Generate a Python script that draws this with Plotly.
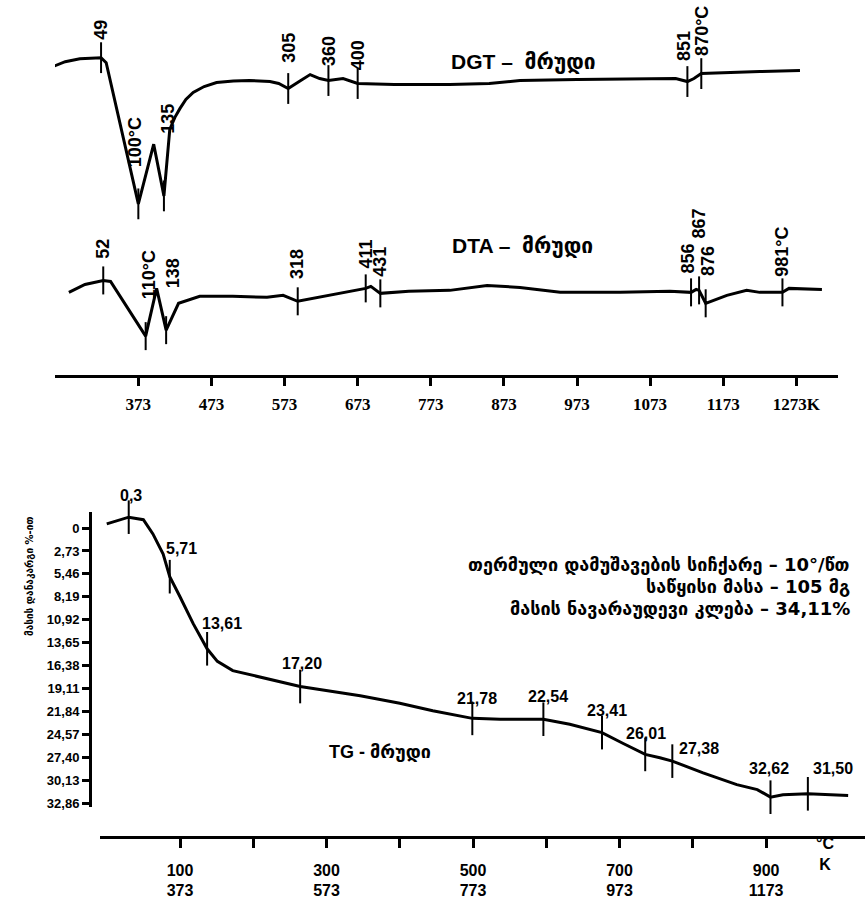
import plotly.graph_objects as go

# ---------------- data ----------------
# Top panel: DGT curve (temperature °C, relative signal)
dgt_temp = [-17, 0, 20, 49, 56, 78, 100, 121, 135, 143, 150, 157, 165, 175, 190, 207, 230, 252, 280, 292, 305,
            320, 335, 348, 360, 380, 400, 450, 526, 580, 622, 700, 804, 835, 851, 860, 870, 900, 950, 1005]
dgt_signal = [18, 23, 26, 27, 22, -50, -120, -60, -112, -45, -33, -24, -15, -8, -2, 2, 3.5, 4, 3, 1, -4,
              3, 10, 6, 4, 6, 1, 0, 0, 1, 4, 5, 6, 6, 3, 6, 11, 12, 13, 14]
dgt_mark_temp = [49, 100, 135, 305, 360, 400, 851, 870]
dgt_mark_text = ["49", "100°C", "135", "305", "360", "400", "851", "870°C"]

# Top panel: DTA curve
dta_temp = [5, 27, 52, 62, 110, 125, 138, 155, 184, 229, 276, 298, 318, 360, 411, 418, 431, 470,
            526, 577, 622, 677, 759, 827, 856, 863, 867, 876, 905, 932, 950, 981, 990, 1035]
dta_signal = [1, 9, 13, 12, -43, 5, -37, -10, -3, -3, -4, -2, -8, -2, 5, 7, 0, 2,
              3, 8, 6, 1, 1, 2, 1, 4, 3, -10, -2, 3, 1, 1, 5, 4]
dta_mark_temp = [52, 110, 138, 318, 411, 431, 856, 867, 876, 981]
dta_mark_text = ["52", "110°C", "138", "318", "411", "431", "856", "867", "876", "981°C"]

top_tick_c = [100, 200, 300, 400, 500, 600, 700, 800, 900, 1000]
top_tick_k = ["373", "473", "573", "673", "773", "873", "973", "1073", "1173", "1273K"]

# Bottom panel: TG curve (temperature °C, mass loss %)
tg_temp = [0, 30, 50, 63, 77, 86, 100, 118, 137, 151, 172, 219, 264, 346, 400, 445, 499, 537,
           596, 632, 676, 705, 735, 755, 772, 814, 860, 888, 906, 923, 957, 1012]
tg_loss = [-0.5, -1.3, -1.0, 0.7, 3.1, 5.8, 8.2, 11.4, 14.4, 15.9, 17.0, 18.0, 18.9, 20.0, 20.9, 21.8, 22.7, 22.8,
           22.8, 23.4, 24.4, 25.7, 27.0, 27.4, 27.8, 29.2, 30.6, 31.2, 32.1, 31.8, 31.7, 31.9]
tg_mark_temp = [30, 86, 137, 264, 499, 596, 676, 735, 772, 906, 957]
tg_mark_text = ["0,3", "5,71", "13,61", "17,20", "21,78", "22,54", "23,41", "26,01", "27,38", "32,62", "31,50"]

tg_ytick_vals = [0, 2.73, 5.46, 8.19, 10.92, 13.65, 16.38, 19.11, 21.84, 24.57, 27.40, 30.13, 32.86]
tg_ytick_text = ["0", "2,73", "5,46", "8,19", "10,92", "13,65", "16,38", "19,11", "21,84", "24,57", "27,40", "30,13", "32,86"]
tg_xtick_c = [100, 200, 300, 400, 500, 600, 700, 800, 900]
tg_xtick_k = ["373", "", "573", "", "773", "", "973", "", "1173"]

info_lines = ["თერმული დამუშავების სიჩქარე – 10°/წთ",
              "საწყისი მასა – 105 მგ",
              "მასის ნავარაუდევი კლება – 34,11%"]
y_title = "მასის დანაკარგი %-ით"

# ---------------- style (pixel offsets for labels) ----------------
W, H = 865, 899
dgt_label_shift = [(0, 16), (-3, 35), (4, 60), (0, 24), (0, 13), (0, 11), (-4, 19), (0, 16)]
dta_label_shift = [(0, 20), (3, 35), (7, 40), (0, 20), (0, 18), (0, 15), (-3, 17), (0, 50), (3, 25), (0, 14)]
tg_label_shift = [(2, 22), (12, 28), (15, 25), (2, 23), (5, 20), (5, 23), (5, 22), (1, 21), (27, 13), (-1, 29), (25, 25)]

NARROW = "Liberation Sans Narrow, Arial Narrow, Liberation Sans, DejaVu Sans"
SANS = "Liberation Sans, Arial, DejaVu Sans"
SERIF = "Liberation Serif, Times New Roman, DejaVu Serif"
GEO = "DejaVu Sans, Liberation Sans"


def px_x(p):
    return p / W


def px_y(p):
    return 1 - p / H


fig = go.Figure()

line_style = dict(color="black", width=3)

dgt_map = dict(zip(dgt_temp, dgt_signal))
dta_map = dict(zip(dta_temp, dta_signal))
tg_map = dict(zip(tg_temp, tg_loss))

fig.add_trace(go.Scatter(x=dgt_temp, y=dgt_signal, mode="lines", line=line_style,
                         xaxis="x", yaxis="y", showlegend=False, hoverinfo="skip"))
fig.add_trace(go.Scatter(x=dgt_mark_temp, y=[dgt_map[t] for t in dgt_mark_temp], mode="markers",
                         marker=dict(symbol="line-ns", size=22, line=dict(color="black", width=2)),
                         xaxis="x", yaxis="y", showlegend=False, cliponaxis=False))

fig.add_trace(go.Scatter(x=dta_temp, y=dta_signal, mode="lines", line=line_style,
                         xaxis="x", yaxis="y2", showlegend=False, hoverinfo="skip"))
fig.add_trace(go.Scatter(x=dta_mark_temp, y=[dta_map[t] for t in dta_mark_temp], mode="markers",
                         marker=dict(symbol="line-ns", size=20, line=dict(color="black", width=2)),
                         xaxis="x", yaxis="y2", showlegend=False, cliponaxis=False))

fig.add_trace(go.Scatter(x=tg_temp, y=tg_loss, mode="lines", line=line_style,
                         xaxis="x2", yaxis="y3", showlegend=False, hoverinfo="skip"))
fig.add_trace(go.Scatter(x=tg_mark_temp, y=[tg_map[t] for t in tg_mark_temp], mode="markers",
                         marker=dict(symbol="line-ns", size=24, line=dict(color="black", width=2)),
                         xaxis="x2", yaxis="y3", showlegend=False, cliponaxis=False))

annotations = []
for t, txt, (dx, dy) in zip(dgt_mark_temp, dgt_mark_text, dgt_label_shift):
    annotations.append(dict(x=t, y=dgt_map[t], xref="x", yref="y", text="<b>%s</b>" % txt,
                            textangle=-90, showarrow=False, xanchor="center", yanchor="bottom",
                            xshift=dx, yshift=dy, font=dict(family=NARROW, size=18, color="black")))
for t, txt, (dx, dy) in zip(dta_mark_temp, dta_mark_text, dta_label_shift):
    annotations.append(dict(x=t, y=dta_map[t], xref="x", yref="y2", text="<b>%s</b>" % txt,
                            textangle=-90, showarrow=False, xanchor="center", yanchor="bottom",
                            xshift=dx, yshift=dy, font=dict(family=NARROW, size=18, color="black")))
for t, txt, (dx, dy) in zip(tg_mark_temp, tg_mark_text, tg_label_shift):
    annotations.append(dict(x=t, y=tg_map[t], xref="x2", yref="y3", text="<b>%s</b>" % txt,
                            showarrow=False, xanchor="center", yanchor="middle",
                            xshift=dx, yshift=dy, font=dict(family=SANS, size=16, color="black")))

# titles of curves
annotations.append(dict(x=px_x(523), y=px_y(48), xref="paper", yref="paper", showarrow=False,
                        text="<b>DGT –  მრუდი</b>", font=dict(family=SANS, size=21, color="black")))
annotations.append(dict(x=px_x(522), y=px_y(233), xref="paper", yref="paper", showarrow=False,
                        text="<b>DTA –  მრუდი</b>", font=dict(family=SANS, size=21, color="black")))
annotations.append(dict(x=px_x(380), y=px_y(768), xref="paper", yref="paper", showarrow=False,
                        text="<b>TG - მრუდი</b>", font=dict(family=SANS, size=18, color="black")))

for i, line in enumerate(info_lines):
    annotations.append(dict(x=px_x(852), y=px_y(568 + 22 * i), xref="paper", yref="paper",
                            showarrow=False, xanchor="right", yanchor="middle",
                            text="<b>%s</b>" % line, font=dict(family=GEO, size=18, color="black")))

annotations.append(dict(x=px_x(22), y=px_y(642), xref="paper", yref="paper", showarrow=False,
                        textangle=-90, text="<b>%s</b>" % y_title,
                        font=dict(family=GEO, size=10, color="black")))
annotations.append(dict(x=px_x(836), y=px_y(880), xref="paper", yref="paper", showarrow=False,
                        text="<b>°C</b><br><b>K</b>", font=dict(family=SANS, size=16, color="black")))

axis_common = dict(showline=True, linecolor="black", linewidth=3, ticks="outside",
                   tickcolor="black", showgrid=False, zeroline=False)

fig.update_layout(
    width=W, height=H, margin=dict(l=0, r=0, t=0, b=0),
    paper_bgcolor="white", plot_bgcolor="white",
    xaxis=dict(domain=[px_x(55), px_x(838)], range=[-14, 1057], anchor="y2",
               tickvals=top_tick_c, ticktext=["<b>%s</b>" % k for k in top_tick_k],
               ticklen=8, tickwidth=3, tickfont=dict(family=SERIF, size=17, color="black"),
               ticklabelstandoff=4, **axis_common),
    yaxis=dict(domain=[px_y(230), px_y(20)], range=[-145, 65], visible=False, anchor="x"),
    yaxis2=dict(domain=[px_y(377), px_y(235)], range=[-82, 60], visible=False, anchor="x"),
    xaxis2=dict(domain=[px_x(100), 1], range=[-9.2, 1035], anchor="free", position=px_y(842),
                tickvals=tg_xtick_c,
                ticktext=["<b>%d</b><br><b>%s</b>" % (c, k) if k else "" for c, k in zip(tg_xtick_c, tg_xtick_k)],
                ticklen=9, tickwidth=3, tickfont=dict(family=SANS, size=16, color="black"),
                ticklabelstandoff=8, **axis_common),
    yaxis3=dict(domain=[px_y(812), px_y(515)], range=[33.33, -1.9], anchor="free", position=px_x(90),
                tickvals=tg_ytick_vals, ticktext=["<b>%s</b>" % s for s in tg_ytick_text],
                ticklen=7, tickwidth=3, tickfont=dict(family=SANS, size=13, color="black"),
                **axis_common),
    annotations=annotations,
)

fig.write_html("out.html", config={"displayModeBar": False},
               post_script="document.body.style.margin='0px';document.body.style.overflow='hidden';")
